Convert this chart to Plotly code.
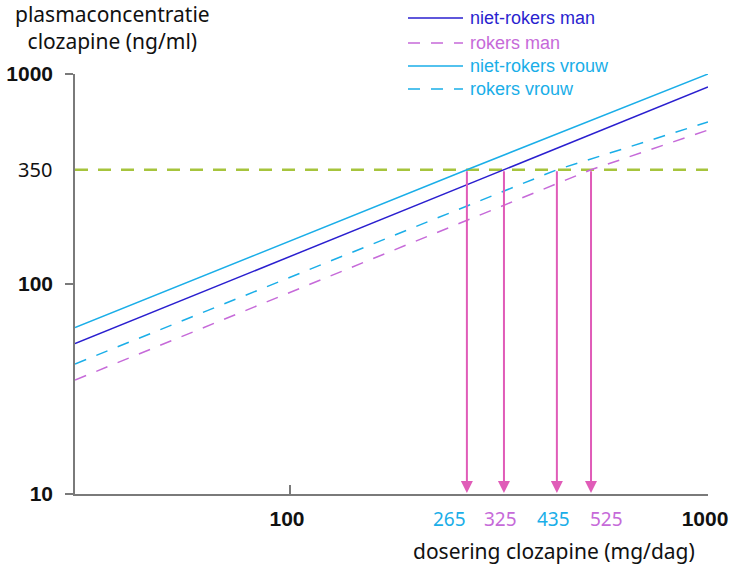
import math
import plotly.graph_objects as go

# Dose (mg/dag) and plasma concentration (ng/ml) per group
dose_min = 30.6
dose_max = 1000
target_conc = 350

nrm_dose = [dose_min, 325, dose_max]
nrm_conc = [52, 350, 867]          # niet-rokers man

rm_dose = [dose_min, 525, dose_max]
rm_conc = [34.9, 350, 541]         # rokers man

nrv_dose = [dose_min, 265, dose_max]
nrv_conc = [62, 350, 1000]         # niet-rokers vrouw

rv_dose = [dose_min, 435, dose_max]
rv_conc = [41.6, 350, 591]         # rokers vrouw

# Doses needed to reach the target concentration
arrow_doses = [265, 325, 435, 525]
arrow_labels = ["265", "325", "435", "525"]

y_tick_vals = [10, 100, 1000]
x_tick_vals = [100, 1000]

C_NRM = "#2a1fcf"
C_RM = "#c66ad9"
C_NRV = "#1aaee8"
C_ARROW = "#e05cb8"
C_TARGET = "#a6c43c"
AXIS = "#7a7a7a"
label_colors = [C_NRV, C_RM, C_NRV, C_RM]
# small horizontal nudges so the dose labels do not collide
label_shift = [-17, -3, -3, 15]

SANS = "Liberation Sans, Arial, sans-serif"
HUMAN = "Noto Sans, Open Sans, sans-serif"

series = [
    ("niet-rokers man", nrm_dose, nrm_conc, C_NRM, "solid"),
    ("rokers man", rm_dose, rm_conc, C_RM, "12px,11px"),
    ("niet-rokers vrouw", nrv_dose, nrv_conc, C_NRV, "solid"),
    ("rokers vrouw", rv_dose, rv_conc, C_NRV, "12px,11px"),
]

fig = go.Figure()

# target concentration line
fig.add_trace(go.Scatter(
    x=[dose_min, dose_max], y=[target_conc, target_conc], mode="lines",
    line=dict(color=C_TARGET, width=2.5, dash="13px,10px"),
    showlegend=False, hoverinfo="skip",
))

for name, xs, ys, col, dash in series:
    fig.add_trace(go.Scatter(
        x=xs, y=ys, mode="lines", name=name,
        line=dict(color=col, width=1.5, dash=dash),
        showlegend=False,
    ))

annotations = []
shapes = []

# arrows from the target line down to the dose axis
for d in arrow_doses:
    annotations.append(dict(
        x=math.log10(d), y=math.log10(10), xref="x", yref="y",
        ax=math.log10(d), ay=math.log10(target_conc), axref="x", ayref="y",
        showarrow=True, arrowhead=2, arrowsize=1.2, arrowwidth=2,
        arrowcolor=C_ARROW, standoff=1, text="",
    ))

# coloured dose labels under the axis
for d, lab, col, dx in zip(arrow_doses, arrow_labels, label_colors, label_shift):
    annotations.append(dict(
        x=math.log10(d), y=-0.059, xref="x", yref="paper", xshift=dx,
        text=lab, showarrow=False, xanchor="center", yanchor="middle",
        font=dict(family=HUMAN, size=19, color=col),
    ))

# 350 label on the concentration axis
annotations.append(dict(
    x=-0.033, y=math.log10(target_conc), xref="paper", yref="y",
    text="350", showarrow=False, xanchor="right", yanchor="middle",
    font=dict(family=HUMAN, size=20, color="#111111"),
))

# axis titles
annotations.append(dict(
    x=(112 - 75) / 633, y=(494 - 28) / 420, xref="paper", yref="paper",
    text="plasmaconcentratie<br>clozapine (ng/ml)", showarrow=False,
    xanchor="center", yanchor="middle", align="center",
    font=dict(family=HUMAN, size=21, color="#111111"),
))
annotations.append(dict(
    x=(554 - 75) / 633, y=(494 - 551) / 420, xref="paper", yref="paper",
    text="dosering clozapine (mg/dag)", showarrow=False,
    xanchor="center", yanchor="middle",
    font=dict(family=HUMAN, size=21, color="#111111"),
))

# legend drawn as line samples with coloured text
legend_rows = [18, 43, 66, 89]
for (name, _, _, col, dash), py in zip(series, legend_rows):
    yp = (494 - py) / 420
    shapes.append(dict(
        type="line", xref="paper", yref="paper",
        x0=(408 - 75) / 633, x1=(463 - 75) / 633, y0=yp, y1=yp,
        line=dict(color=col, width=1.5, dash=dash),
    ))
    annotations.append(dict(
        x=(468 - 75) / 633, y=yp, xref="paper", yref="paper",
        text=name, showarrow=False, xanchor="left", yanchor="middle",
        font=dict(family=SANS, size=18, color=col),
    ))

fig.update_layout(
    width=729, height=566,
    margin=dict(l=75, r=21, t=74, b=72, autoexpand=False),
    paper_bgcolor="white", plot_bgcolor="white",
    showlegend=False,
    annotations=annotations, shapes=shapes,
    xaxis=dict(
        type="log", range=[math.log10(dose_min), math.log10(dose_max)],
        tickvals=x_tick_vals, ticktext=["<b>%d</b>" % v for v in x_tick_vals],
        ticks="inside", ticklen=9, tickwidth=1.5, tickcolor=AXIS,
        showline=True, linecolor=AXIS, linewidth=2,
        showgrid=False, zeroline=False, ticklabelstandoff=5,
        ticklabeloverflow="allow", automargin=False, ticklabelshift=-3,
        tickfont=dict(family=SANS, size=21, color="#111111"),
    ),
    yaxis=dict(
        type="log", range=[1, 3],
        tickvals=y_tick_vals, ticktext=["<b>%d</b>" % v for v in y_tick_vals],
        ticks="outside", ticklen=8, tickwidth=1.5, tickcolor=AXIS,
        showline=True, linecolor=AXIS, linewidth=1.5,
        showgrid=False, zeroline=False, ticklabelstandoff=8,
        ticklabeloverflow="allow", automargin=False,
        tickfont=dict(family=SANS, size=21, color="#111111"),
    ),
)

fig.write_html("out.html")
